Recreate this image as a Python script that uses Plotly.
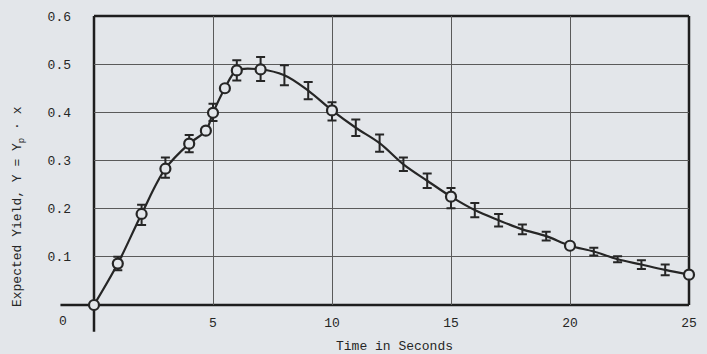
import plotly.graph_objects as go

# Measured points (open circles)
circle_t = [0, 1, 2, 3, 4, 4.7, 5, 5.5, 6, 7, 10, 15, 20, 25]
circle_y = [0.0, 0.086, 0.189, 0.283, 0.335, 0.362, 0.399, 0.450, 0.487, 0.489, 0.404, 0.225, 0.123, 0.063]

# Error bars (centre and half-width)
bar_t = [1, 2, 3, 4, 5, 6, 7, 8, 9, 10, 11, 12, 13, 14, 15, 16, 17, 18, 19, 21, 22, 23, 24]
bar_y = [0.086, 0.187, 0.285, 0.335, 0.400, 0.487, 0.490, 0.477, 0.445, 0.402, 0.368,
         0.336, 0.292, 0.258, 0.222, 0.197, 0.176, 0.157, 0.143, 0.111, 0.095, 0.084, 0.073]
bar_err = [0.014, 0.021, 0.021, 0.018, 0.018, 0.021, 0.025, 0.021, 0.018, 0.019, 0.017,
           0.018, 0.014, 0.015, 0.021, 0.015, 0.013, 0.010, 0.009, 0.008, 0.006, 0.009, 0.011]

x_ticks = [5, 10, 15, 20, 25]
x_ticklabels = ["5", "10", "15", "20", "25"]
y_ticks = [0.1, 0.2, 0.3, 0.4, 0.5, 0.6]
y_ticklabels = ["0.1", "0.2", "0.3", "0.4", "0.5", "0.6"]

BG = "#e3e6ea"
INK = "#262626"
FONT = "Liberation Mono"

# curve through circles and bar centres
pts = {}
for t, y in zip(bar_t, bar_y):
    pts[t] = y
for t, y in zip(circle_t, circle_y):
    pts[t] = y
curve_t = sorted(pts)
curve_y = [pts[t] for t in curve_t]

fig = go.Figure()
fig.add_trace(go.Scatter(x=curve_t, y=curve_y, mode="lines",
                         line=dict(color=INK, width=2.2, shape="spline", smoothing=1.0),
                         hoverinfo="skip", showlegend=False))
fig.add_trace(go.Scatter(x=bar_t, y=bar_y, mode="markers", marker=dict(size=1, color="rgba(0,0,0,0)"),
                         error_y=dict(type="data", array=bar_err, visible=True, color=INK,
                                      thickness=2, width=4.5),
                         showlegend=False))
fig.add_trace(go.Scatter(x=circle_t, y=circle_y, mode="markers", cliponaxis=False,
                         marker=dict(symbol="circle", size=10, color=BG,
                                     line=dict(color=INK, width=2.2)),
                         showlegend=False))

L = 94
W = 603
H = 292
T = 13

fig.update_layout(
    width=707, height=354,
    margin=dict(l=L, r=707 - L - W, t=T, b=354 - T - H, pad=0),
    paper_bgcolor=BG, plot_bgcolor=BG,
    font=dict(family=FONT, size=13, color=INK),
    xaxis=dict(range=[0, 25], tickvals=x_ticks, ticktext=x_ticklabels,
               showgrid=True, gridcolor="#5a5a5a", gridwidth=1, zeroline=False,
               showline=False, ticks="", ticklabelstandoff=8,
               tickfont=dict(family=FONT, size=13, color=INK)),
    yaxis=dict(range=[0, 0.6], tickvals=y_ticks, ticktext=y_ticklabels,
               showgrid=True, gridcolor="#5a5a5a", gridwidth=1, zeroline=False,
               showline=False, ticks="", ticklabelstandoff=22,
               tickfont=dict(family=FONT, size=13, color=INK)),
)

frame = dict(color="#1e1e1e", width=2.5)
shapes = [
    dict(type="line", xref="paper", yref="paper", x0=0, x1=1, y0=1, y1=1, line=frame, layer="below"),
    dict(type="line", xref="paper", yref="paper", x0=1, x1=1, y0=0, y1=1, line=frame, layer="below"),
    dict(type="line", xref="paper", yref="paper", x0=(60 - L) / W, x1=1, y0=0, y1=0, line=frame, layer="below"),
    dict(type="line", xref="paper", yref="paper", x0=0, x1=0, y0=(305 - 332) / H, y1=1, line=frame, layer="below"),
]
fig.update_layout(shapes=shapes)

fig.add_annotation(text="0", xref="paper", yref="paper", x=(63 - L) / W, y=(305 - 322) / H,
                   showarrow=False, xanchor="center", yanchor="middle",
                   font=dict(family=FONT, size=13, color=INK))
fig.add_annotation(text="Time in Seconds", xref="paper", yref="paper",
                   x=(399 - L) / W, y=(305 - 347) / H, showarrow=False,
                   xanchor="center", yanchor="middle",
                   font=dict(family=FONT, size=13, color=INK))
fig.add_annotation(text="Expected Yield, Y = Y<sub>p</sub> · x", xref="paper", yref="paper",
                   x=(17 - L) / W, y=(305 - 206) / H, showarrow=False, textangle=-90,
                   xanchor="center", yanchor="middle",
                   font=dict(family=FONT, size=13, color=INK))

fig.write_html("out.html", config={"displayModeBar": False},
               post_script="document.body.style.margin='0';document.body.style.background='%s';" % BG)
